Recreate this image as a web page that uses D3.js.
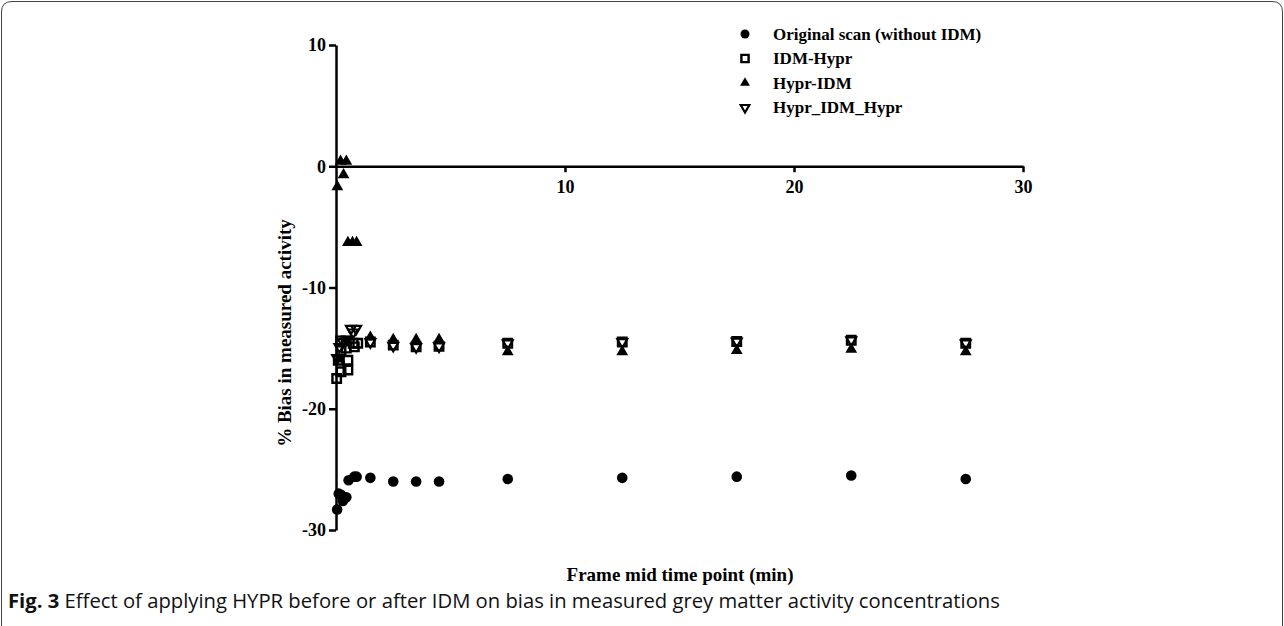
<!DOCTYPE html>
<html><head><meta charset="utf-8">
<script src="https://cdn.jsdelivr.net/npm/d3@7"></script>
<style>html,body{margin:0;padding:0;background:#fff;}svg{display:block;}</style>
</head><body>
<svg id="chart" width="1284" height="626"></svg>
<script>
// ---- Data : [frame mid time (min), % bias] ----
const originalScan = [[0.05,-28.3],[0.12,-27.0],[0.22,-27.1],[0.3,-27.6],[0.45,-27.3],[0.55,-25.9],[0.8,-25.6],[0.9,-25.6],
  [1.5,-25.7],[2.5,-26.0],[3.5,-26.0],[4.5,-26.0],[7.5,-25.8],[12.5,-25.7],[17.5,-25.6],[22.5,-25.5],[27.5,-25.8]];
const idmHypr = [[0.03,-17.5],[0.1,-16.0],[0.22,-16.95],[0.22,-15.2],[0.45,-15.0],[0.52,-16.8],[0.52,-16.0],[0.8,-14.9],
  [0.2,-14.4],[0.45,-14.4],[0.75,-14.6],[0.95,-14.6],
  [1.5,-14.5],[2.5,-14.75],[3.5,-14.9],[4.5,-14.85],[7.5,-14.6],[12.5,-14.5],[17.5,-14.45],[22.5,-14.35],[27.5,-14.6]];
const hyprIdm = [[0.06,-1.7],[0.2,0.4],[0.33,-0.7],[0.45,0.4],[0.52,-6.3],[0.72,-6.3],[0.9,-6.3],[0.15,-15.9],
  [1.5,-14.1],[2.5,-14.3],[3.5,-14.3],[4.5,-14.3],[7.5,-15.3],[12.5,-15.3],[17.5,-15.2],[22.5,-15.1],[27.5,-15.3]];
const hyprIdmHypr = [[0.05,-15.8],[0.15,-14.9],[0.3,-14.5],[0.45,-14.3],[0.65,-13.4],[0.75,-13.7],[0.88,-13.4],
  [1.5,-14.5],[2.5,-14.8],[3.5,-14.9],[4.5,-14.85],[7.5,-14.6],[12.5,-14.5],[17.5,-14.45],[22.5,-14.35],[27.5,-14.6]];
const seriesNames = ["Original scan (without IDM)","IDM-Hypr","Hypr-IDM","Hypr_IDM_Hypr"];
const xTicks = [10,20,30];
const yTicks = [-30,-20,-10,0,10];
const xTitle = "Frame mid time point (min)";
const yTitle = "% Bias in measured activity";
const captionBold = "Fig. 3";
const captionText = " Effect of applying HYPR before or after IDM on bias in measured grey matter activity concentrations";

const svg = d3.select("#chart");
const serif = "'Liberation Serif','Times New Roman',serif";

svg.append("rect").attr("width",1284).attr("height",626).attr("fill","#fff");
// figure frame
svg.append("path")
  .attr("d","M1.5,626 L1.5,12 Q1.5,1.5 12,1.5 L1272,1.5 Q1282.5,1.5 1282.5,12 L1282.5,626")
  .attr("fill","none").attr("stroke","#444").attr("stroke-width",1);

const x = d3.scaleLinear().domain([0,30]).range([336,1023]);
const y = d3.scaleLinear().domain([-30,10]).range([530,45]);

// Y axis
const gy = svg.append("g").attr("transform",`translate(${x(0)},0)`)
  .call(d3.axisLeft(y).tickValues(yTicks).tickSize(7).tickSizeOuter(0).tickPadding(3).tickFormat(d3.format("d")));
// X axis at y=0
const gx = svg.append("g").attr("transform",`translate(0,${y(0)})`)
  .call(d3.axisBottom(x).tickValues(xTicks).tickSize(6).tickSizeOuter(0).tickPadding(8).tickFormat(d3.format("d")));
[gx,gy].forEach(g=>{
  g.select(".domain").attr("stroke","#000").attr("stroke-width",2.5);
  g.selectAll(".tick line").attr("stroke","#000").attr("stroke-width",2.5);
  g.selectAll(".tick text").attr("fill","#000").style("font-family",serif).style("font-weight","bold").style("font-size","18px");
});
gy.selectAll(".tick text").text(d=>d<0?"-"+Math.abs(d):d);

// Titles
svg.append("text").attr("transform",`translate(291,333) rotate(-90)`).attr("text-anchor","middle")
  .style("font-family",serif).style("font-weight","bold").style("font-size","19px").text(yTitle);
svg.append("text").attr("x",680).attr("y",581).attr("text-anchor","middle")
  .style("font-family",serif).style("font-weight","bold").style("font-size","19px").text(xTitle);

// Markers
const sym = {
  circle: d3.symbol().type(d3.symbolCircle).size(88),
  square: d3.symbol().type(d3.symbolSquare).size(72),
  tri: d3.symbol().type(d3.symbolTriangle).size(60),
  inv: d3.symbol().type(d3.symbolTriangle).size(42)
};
function plot(data, gen, opts){
  svg.append("g").selectAll("path").data(data).join("path")
    .attr("d",gen)
    .attr("transform",d=>`translate(${x(d[0])},${y(d[1])})${opts.rot?" rotate(180)":""}`)
    .attr("fill",opts.fill).attr("stroke",opts.stroke||"none").attr("stroke-width",opts.sw||0);
}
plot(originalScan, sym.circle, {fill:"#000"});
plot(idmHypr, sym.square, {fill:"none",stroke:"#000",sw:2.4});
plot(hyprIdm, sym.tri, {fill:"#000"});
plot(hyprIdmHypr, sym.inv, {fill:"none",stroke:"#000",sw:2.2,rot:true});

// Legend
const legY = [34,58.5,83,107.5];
const legSym = [
  {g:d3.symbol().type(d3.symbolCircle).size(64),fill:"#000"},
  {g:d3.symbol().type(d3.symbolSquare).size(52),fill:"none",stroke:"#000",sw:2.4},
  {g:d3.symbol().type(d3.symbolTriangle).size(42),fill:"#000"},
  {g:d3.symbol().type(d3.symbolTriangle).size(32),fill:"none",stroke:"#000",sw:2.2,rot:true}
];
const leg = svg.append("g");
seriesNames.forEach((n,i)=>{
  const s = legSym[i];
  leg.append("path").attr("d",s.g).attr("transform",`translate(745,${legY[i]})${s.rot?" rotate(180)":""}`)
    .attr("fill",s.fill).attr("stroke",s.stroke||"none").attr("stroke-width",s.sw||0);
  leg.append("text").attr("x",773).attr("y",legY[i]).attr("dy","0.35em")
    .style("font-family",serif).style("font-weight","bold").style("font-size","17px").text(n);
});

// Caption
const cap = svg.append("text").attr("x",8).attr("y",608)
  .style("font-family","'Open Sans','Noto Sans',sans-serif").style("font-size","16px").attr("fill","#111");
cap.append("tspan").style("font-weight","bold").text(captionBold);
cap.append("tspan").text(captionText);
const w = cap.node().getComputedTextLength();
cap.style("font-size", (16*992/w).toFixed(2)+"px");
</script>
</body></html>
